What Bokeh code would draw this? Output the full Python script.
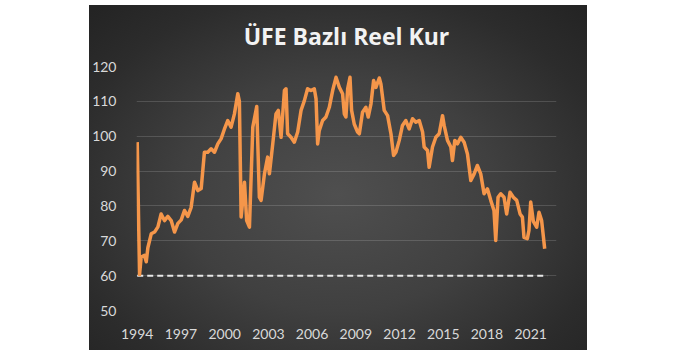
from bokeh.plotting import figure
from bokeh.models import Range1d, FixedTicker, Spacer
from bokeh.layouts import row, column
from bokeh.embed import file_html
from bokeh.resources import INLINE

title_text = "ÜFE Bazlı Reel Kur"
x_ticks = [1994, 1997, 2000, 2003, 2006, 2009, 2012, 2015, 2018, 2021]
y_ticks = [50, 60, 70, 80, 90, 100, 110, 120]
reference_level = 60

years = [
    1994.00, 1994.16, 1994.27, 1994.50, 1994.62, 1994.73, 1994.96, 1995.19, 1995.42, 1995.64,
    1995.87, 1996.10, 1996.33, 1996.56, 1996.79, 1997.02, 1997.24, 1997.47, 1997.70, 1997.93,
    1998.16, 1998.39, 1998.61, 1998.84, 1999.07, 1999.30, 1999.53, 1999.76, 1999.98, 2000.21,
    2000.44, 2000.67, 2000.90, 2001.01, 2001.13, 2001.36, 2001.51, 2001.70, 2001.93, 2002.20,
    2002.38, 2002.50, 2002.73, 2002.95, 2003.07, 2003.30, 2003.52, 2003.68, 2003.87, 2004.10,
    2004.21, 2004.32, 2004.55, 2004.78, 2005.01, 2005.24, 2005.47, 2005.69, 2005.92, 2006.15,
    2006.27, 2006.38, 2006.49, 2006.72, 2006.95, 2007.18, 2007.41, 2007.64, 2007.87, 2008.09,
    2008.21, 2008.32, 2008.44, 2008.60, 2008.71, 2008.89, 2009.12, 2009.24, 2009.46, 2009.69,
    2009.85, 2010.04, 2010.22, 2010.38, 2010.61, 2010.72, 2010.95, 2011.18, 2011.41, 2011.59,
    2011.75, 2011.98, 2012.20, 2012.43, 2012.66, 2012.89, 2013.12, 2013.35, 2013.58, 2013.69,
    2013.92, 2014.03, 2014.26, 2014.49, 2014.72, 2014.95, 2015.06, 2015.29, 2015.52, 2015.63,
    2015.79, 2015.97, 2016.20, 2016.43, 2016.66, 2016.89, 2017.12, 2017.34, 2017.57, 2017.80,
    2018.03, 2018.26, 2018.48, 2018.60, 2018.76, 2018.94, 2019.17, 2019.35, 2019.58, 2019.81,
    2020.04, 2020.27, 2020.43, 2020.54, 2020.77, 2020.88, 2021.00, 2021.18, 2021.41, 2021.57,
    2021.75, 2021.96,
]
real_rate = [
    98.3, 60.3, 65.3, 65.8, 64.0, 68.0, 72.0, 72.5, 74.0, 77.7,
    75.8, 77.0, 75.8, 72.5, 75.0, 76.0, 78.7, 77.0, 79.6, 86.8,
    84.4, 85.0, 95.4, 95.4, 96.4, 95.4, 97.8, 99.3, 102.0, 104.5,
    102.6, 106.4, 112.2, 110.0, 76.8, 86.8, 75.8, 73.9, 102.6, 108.5,
    82.5, 81.6, 89.2, 94.0, 89.2, 97.8, 106.4, 107.4, 99.7, 113.1,
    113.6, 100.7, 99.7, 98.3, 101.2, 107.4, 110.2, 113.6, 113.1, 113.6,
    110.7, 97.8, 101.6, 104.5, 105.5, 108.3, 113.1, 116.9, 114.0, 112.2,
    106.4, 105.5, 113.6, 116.9, 107.4, 103.5, 101.2, 100.7, 106.9, 108.3,
    105.5, 109.3, 116.0, 114.0, 116.7, 115.0, 107.4, 105.9, 100.7, 94.5,
    95.4, 98.8, 103.1, 104.5, 102.1, 105.0, 104.0, 104.5, 101.2, 96.9,
    95.9, 91.1, 96.9, 99.7, 100.7, 105.9, 103.1, 98.8, 96.9, 93.0,
    98.8, 97.8, 99.7, 98.3, 94.9, 87.3, 89.2, 91.6, 89.2, 83.5,
    84.9, 81.6, 78.7, 70.1, 82.5, 83.5, 82.5, 77.7, 83.9, 82.5,
    81.6, 77.7, 76.8, 71.0, 70.6, 73.0, 81.1, 75.6, 73.9, 78.2,
    75.8, 67.7,
]
ref_start, ref_end = 1994.0, 2022.14

FONT = "Lato"

p = figure(
    width=498, height=345,
    x_range=Range1d(1993.95, 2022.77), y_range=Range1d(50, 120),
    output_backend="svg", toolbar_location=None,
    background_fill_color=None, border_fill_color=None,
    min_border_left=47, min_border_right=31, min_border_top=61, min_border_bottom=40,
    title=title_text,
)
p.styles = {
    "background": "radial-gradient(ellipse 70% 75% at 50% 55%, #4f4f4f 0%, #404040 45%, #2c2c2c 80%, #242424 100%)",
}
p.outline_line_color = None

p.title.align = "center"
p.title.vertical_align = "top"
p.title.text_color = "#f2f2f2"
p.title.text_font = "Open Sans"
p.title.text_font_style = "bold"
p.title.text_font_size = "23px"
p.title.standoff = 25

for ax in (p.xaxis, p.yaxis):
    ax.axis_line_color = None
    ax.major_tick_line_color = None
    ax.minor_tick_line_color = None
    ax.major_label_text_color = "#d9d9d9"
    ax.major_label_text_font = FONT
    ax.major_label_text_font_size = "14px"

p.xaxis.ticker = FixedTicker(ticks=x_ticks)
p.yaxis.ticker = FixedTicker(ticks=y_ticks)
p.xaxis.major_label_standoff = 12
p.yaxis.major_label_standoff = 14

p.xgrid.grid_line_color = None
p.ygrid.grid_line_color = "white"
p.ygrid.grid_line_alpha = 0.15
p.ygrid.grid_line_width = 1

p.line([ref_start, ref_end], [reference_level, reference_level],
       line_color="#e8e8e8", line_width=2, line_dash="6 4")

p.line(years, real_rate, line_color="#f5964a", line_width=3.5, line_join="round")

layout = column(Spacer(width=10, height=5), row(Spacer(width=89, height=345), p))

open("out.html", "w").write(file_html(layout, INLINE))
